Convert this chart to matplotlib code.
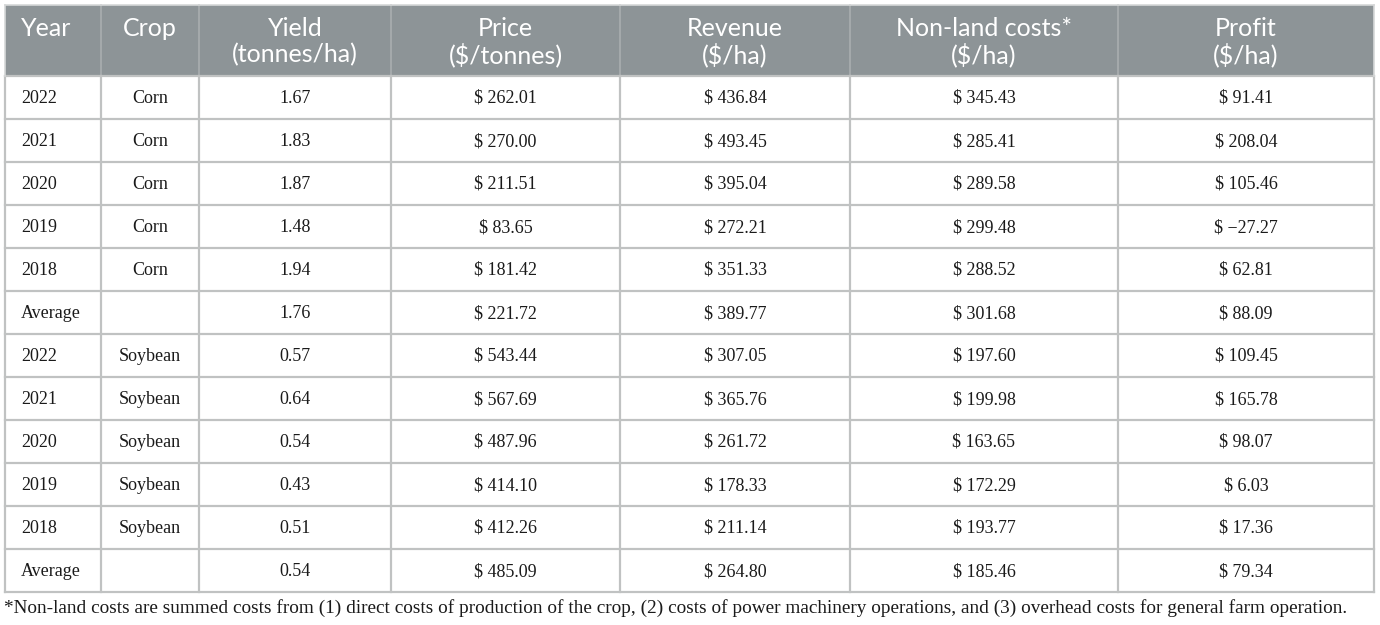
import matplotlib
matplotlib.use("Agg")
import matplotlib.pyplot as plt
from matplotlib.patches import Rectangle

# ---- data ----
years = ["2022", "2021", "2020", "2019", "2018", "Average",
         "2022", "2021", "2020", "2019", "2018", "Average"]
crops = ["Corn", "Corn", "Corn", "Corn", "Corn", "",
         "Soybean", "Soybean", "Soybean", "Soybean", "Soybean", ""]
yield_t = [1.67, 1.83, 1.87, 1.48, 1.94, 1.76, 0.57, 0.64, 0.54, 0.43, 0.51, 0.54]
price = [262.01, 270.00, 211.51, 83.65, 181.42, 221.72,
         543.44, 567.69, 487.96, 414.10, 412.26, 485.09]
revenue = [436.84, 493.45, 395.04, 272.21, 351.33, 389.77,
           307.05, 365.76, 261.72, 178.33, 211.14, 264.80]
nonland = [345.43, 285.41, 289.58, 299.48, 288.52, 301.68,
           197.60, 199.98, 163.65, 172.29, 193.77, 185.46]
profit = [91.41, 208.04, 105.46, -27.27, 62.81, 88.09,
          109.45, 165.78, 98.07, 6.03, 17.36, 79.34]
header_line1 = ["Year", "Crop", "Yield", "Price", "Revenue", "Non-land costs*", "Profit"]
header_line2 = ["", "", "(tonnes/ha)", "($/tonnes)", "($/ha)", "($/ha)", "($/ha)"]
footnote = ("*Non-land costs are summed costs from (1) direct costs of production of the crop, "
            "(2) costs of power machinery operations, and (3) overhead costs for general farm operation.")

def money(v):
    return ("$ " + f"{v:.2f}").replace("-", "\u2212")

# ---- layout ----
W, H = 1380, 625
fig = plt.figure(figsize=(W / 100, H / 100), dpi=100)
ax = fig.add_axes([0, 0, 1, 1])
ax.set_xlim(0, W)
ax.set_ylim(H, 0)
ax.axis("off")

col_edges = [5, 101, 199, 391, 620, 850, 1118, 1374]
top, head_bot, row_h = 5, 76, 43
n_rows = len(years)
bottom = head_bot + n_rows * row_h

header_color = "#8d9497"
line_color = "#c0c2c2"
sans = ["Lato", "DejaVu Sans"]
serif = ["Liberation Serif", "DejaVu Serif"]
hsize = 18
hweight = "normal"

ax.add_patch(Rectangle((col_edges[0], top), col_edges[-1] - col_edges[0], head_bot - top,
                       facecolor=header_color, edgecolor="none"))

# header separators
for x in col_edges[1:-1]:
    ax.plot([x, x], [top, head_bot], color="#a9aeb0", lw=1.2)
# body grid
for x in col_edges:
    ax.plot([x, x], [head_bot, bottom], color=line_color, lw=1.6)
for i in range(n_rows + 1):
    y = head_bot + i * row_h
    ax.plot([col_edges[0], col_edges[-1]], [y, y], color=line_color, lw=1.6)
ax.plot([col_edges[0], col_edges[-1]], [top, top], color="#d6d8d8", lw=1.2)
ax.plot([col_edges[0], col_edges[0]], [top, head_bot], color="#d6d8d8", lw=1.2)
ax.plot([col_edges[-1], col_edges[-1]], [top, head_bot], color="#d6d8d8", lw=1.2)

centers = [(col_edges[i] + col_edges[i + 1]) / 2 for i in range(len(col_edges) - 1)]

# header text
for j, (l1, l2) in enumerate(zip(header_line1, header_line2)):
    if j == 0:
        ax.text(21, 29, l1, ha="left", va="center", color="white", fontsize=hsize,
                family=sans, fontweight=hweight)
    else:
        ax.text(centers[j], 29, l1, ha="center", va="center", color="white", fontsize=hsize,
                family=sans, fontweight=hweight)
        if l2:
            ax.text(centers[j], 55, l2, ha="center", va="center", color="white", fontsize=hsize,
                    family=sans, fontweight=hweight)

# body text
for i in range(n_rows):
    yc = head_bot + i * row_h + row_h / 2 + 1
    cells = [years[i], crops[i], f"{yield_t[i]:.2f}", money(price[i]),
             money(revenue[i]), money(nonland[i]), money(profit[i])]
    for j, s in enumerate(cells):
        if j == 0:
            ax.text(21, yc, s, ha="left", va="center", color="#1a1a1a", fontsize=13, family=serif)
        else:
            ax.text(centers[j], yc, s, ha="center", va="center", color="#1a1a1a", fontsize=13, family=serif)

ax.text(4, 608, footnote, ha="left", va="center", color="#1a1a1a", fontsize=13.9, family=serif)

fig.savefig("out.png", dpi=100, facecolor="white")
